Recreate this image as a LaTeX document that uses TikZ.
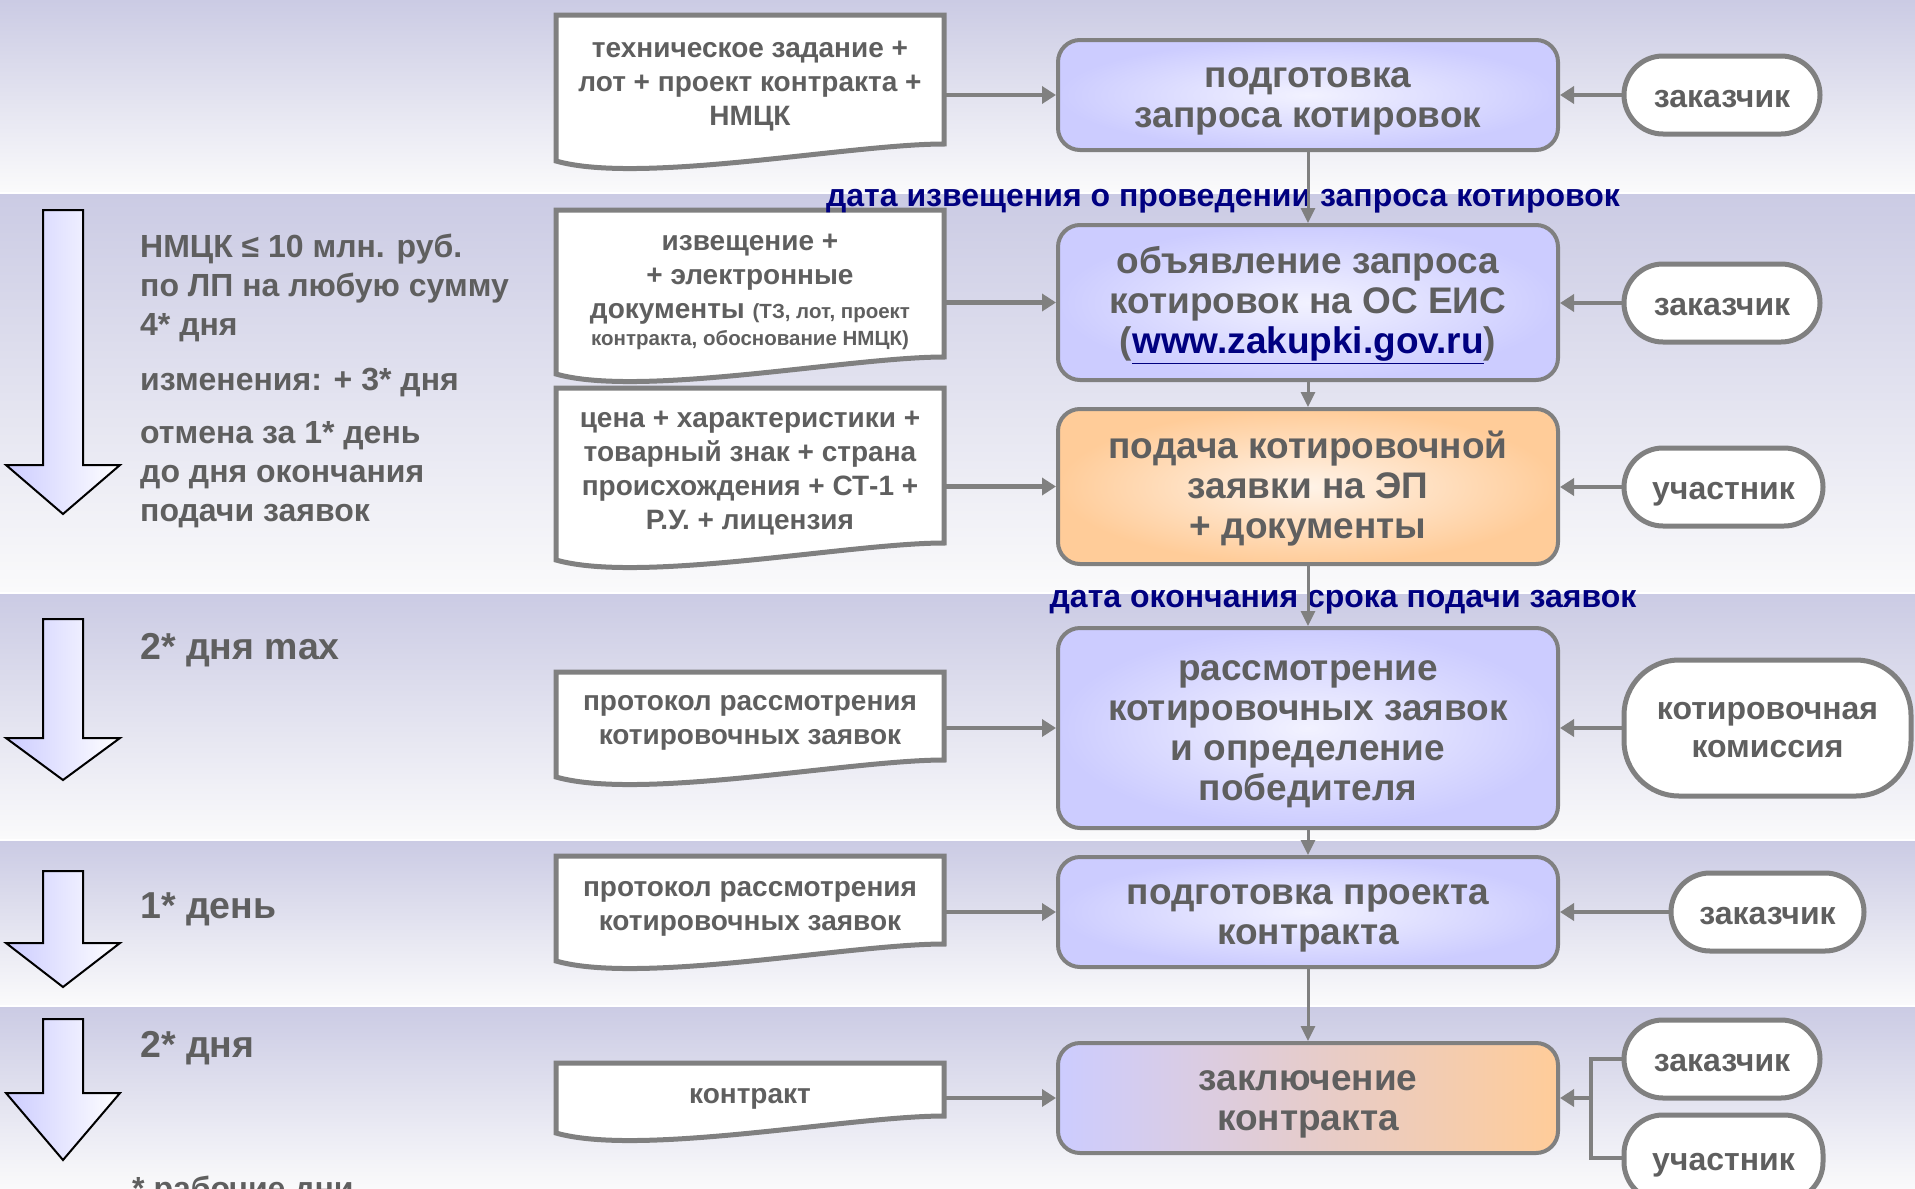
\documentclass[tikz,border=0pt]{standalone}
\usepackage{fontspec}
\setmainfont{Liberation Sans}
\usetikzlibrary{arrows.meta, backgrounds}
\definecolor{textgrey}{HTML}{5F5F5F}
\definecolor{linegrey}{HTML}{808080}
\definecolor{bandtop}{HTML}{CBCBE4}
\definecolor{bandbottom}{HTML}{FAFAFB}
\definecolor{lavender}{HTML}{CCCCFF}
\definecolor{lavendercentre}{HTML}{F2F2FF}
\definecolor{peach}{HTML}{FFCC99}
\definecolor{peachcentre}{HTML}{FFF3E8}
\definecolor{navy}{HTML}{000080}
% struts so that text sits where it should in its node
\newcommand{\onestrut}{\rule[-0.2em]{0pt}{1.17em}}
\newcommand{\textstrut}{\rule[-0.2em]{0pt}{0.92em}}
\newcommand{\firststrut}{\rule{0pt}{0.86em}}
% document outline with a wavy bottom: top, bottom of the right edge
\newcommand{\docoutline}[2]{%
  \begin{scope}[on background layer]
    \draw[docline] (556,#1) -- (944,#1) -- (944,#2)
      .. controls +(-94,0) and +(84,24) .. (556,#2+17) -- cycle;
  \end{scope}}
% big arrow on the left: top, start of head, tip
\newcommand{\timearrow}[3]{%
  \shadedraw[timeblock] (43,#1) -- (83,#1) -- (83,#2) -- (120,#2) -- (63,#3)
    -- (6,#2) -- (43,#2) -- cycle;}

\begin{document}
\begin{tikzpicture}[
      % GLOBAL CFG
      x=1pt, y=-1pt,
      >=Triangle,
      % Styles
      single/.style={% one line of text in a box
        execute at begin node=\onestrut,
        execute at end node=\onestrut
      },
      plaintext/.style={
        execute at begin node=\textstrut,
        execute at end node=\textstrut
      },
      stage/.style={% For the main steps
        rectangle,
        rounded corners=22pt,
        draw=linegrey,
        line width=4pt,
        inner color=lavendercentre,
        outer color=lavender,
        minimum width=500pt,
        align=center,
        text=textgrey,
        font=\fontsize{37}{40}\selectfont\bfseries
      },
      doc/.style={% For documents
        rectangle,
        inner sep=0pt,
        minimum width=388pt,
        align=center,
        text=textgrey,
        font=\fontsize{28}{34}\selectfont\bfseries
      },
      docline/.style={
        draw=linegrey,
        line width=5pt,
        fill=white
      },
      actor/.style={% For participants
        rectangle,
        single,
        rounded corners=39pt,
        draw=linegrey,
        line width=5pt,
        fill=white,
        minimum width=196pt,
        minimum height=78pt,
        align=center,
        text=textgrey,
        font=\fontsize{32}{38}\selectfont\bfseries
      },
      note/.style={% Terms on the left
        anchor=west,
        plaintext,
        inner sep=0pt,
        align=left,
        text=textgrey,
        font=\fontsize{32}{39}\selectfont\bfseries
      },
      period/.style={
        note,
        font=\fontsize{37.5}{42}\selectfont\bfseries
      },
      datelabel/.style={
        plaintext,
        inner sep=0pt,
        text=navy,
        font=\fontsize{32}{34}\selectfont\bfseries
      },
      timeblock/.style={
        left color=lavender,
        right color=white,
        draw=black,
        line width=2pt
      },
      arrowinput/.style={% Arrows into a step
        draw=linegrey,
        line width=4.5pt,
        -{Triangle[length=14pt,width=17pt]}
      },
      arrowstep/.style={% Arrows between steps
        draw=linegrey,
        line width=3pt,
        -{Triangle[length=15pt,width=14pt]}
      },
      actorlink/.style={
        draw=linegrey,
        line width=4.5pt
      }
      ]

      \useasboundingbox (0,0) rectangle (1915,1189);

      % Background bands
      \begin{scope}[on background layer]
        \fill[white] (0,0) rectangle (1915,1189);
        \foreach \top/\bot in {0/191, 194/591, 594/838, 841/1004, 1007/1189}
          \shade[top color=bandtop, bottom color=bandbottom] (0,\top) rectangle (1915,\bot);
      \end{scope}

      % Time scale on the left
      \timearrow{210}{465}{514}
      \timearrow{619}{738}{780}
      \timearrow{871}{943}{987}
      \timearrow{1019}{1093}{1160}

      \node [note] (limits) at (140,288) {НМЦК ≤ 10 млн. руб.\\по ЛП на любую сумму\\4* дня};
      \node [note] (changes) at (140,382) {изменения: + 3* дня};
      \node [note] (cancel) at (140,475) {отмена за 1* день\\до дня окончания\\подачи заявок};
      \node [period] (reviewterm) at (140,650) {2* дня max};
      \node [period] (draftterm) at (140,909) {1* день};
      \node [period] (signterm) at (140,1048) {2* дня};
      \node [note, anchor=base west] (footnote) at (132,1199) {* рабочие дни};

      % Documents
      \node [doc] (docspec) at (750,86)
        {техническое задание +\\лот + проект контракта +\\НМЦК};
      \docoutline{15}{144}
      \node [doc] (docnotice) at (750,292)
        {извещение +\\+ электронные\\документы {\fontsize{20.5}{24}\selectfont (ТЗ, лот, проект}\\[-7pt]
         {\fontsize{20.5}{24}\selectfont контракта, обоснование НМЦК)}};
      \docoutline{210}{357}
      \node [doc] (docbid) at (750,473.5)
        {цена + характеристики +\\товарный знак + страна\\происхождения + СТ-1 +\\Р.У. + лицензия};
      \docoutline{388}{543}
      \node [doc] (docreview) at (750,723)
        {протокол рассмотрения\\котировочных заявок};
      \docoutline{672}{760}
      \node [doc] (docprotocol) at (750,909)
        {протокол рассмотрения\\котировочных заявок};
      \docoutline{856}{944}
      \node [doc, single] (doccontract) at (750,1093) {контракт};
      \docoutline{1063}{1116}

      % Steps
      \node [stage, minimum height=110pt] (prepare) at (1308,95) {\firststrut подготовка\\запроса котировок};
      \node [stage, minimum height=155pt] (announce) at (1308,302.5)
        {\firststrut объявление запроса\\котировок на ОС ЕИС\\(\textcolor{navy}{\underline{www.zakupki.gov.ru}})};
      \node [stage, minimum height=155pt, inner color=peachcentre, outer color=peach] (submit) at (1308,486.5)
        {\firststrut подача котировочной\\заявки на ЭП\\+ документы};
      \node [stage, minimum height=200pt] (review) at (1308,728)
        {\firststrut рассмотрение\\котировочных заявок\\и определение\\победителя};
      \node [stage, minimum height=110pt] (draft) at (1308,912) {\firststrut подготовка проекта\\контракта};
      \node [stage, minimum height=110pt, left color=lavender, right color=peach] (conclude) at (1308,1098)
        {\firststrut заключение\\контракта};

      % Participants
      \node [actor] (client1) at (1722,95) {заказчик};
      \node [actor] (client2) at (1722,303) {заказчик};
      \node [actor, minimum width=199pt] (bidder1) at (1723.5,487) {участник};
      \node [actor, minimum width=287pt, minimum height=136pt, rounded corners=55pt] (commission) at (1767.5,728)
        {\firststrut котировочная\\комиссия};
      \node [actor, minimum width=193pt] (client3) at (1767.5,912) {заказчик};
      \node [actor] (client4) at (1722,1059) {заказчик};
      \node [actor, minimum width=199pt, minimum height=86pt] (bidder2) at (1723.5,1158) {участник};

      % Dates
      \node [datelabel] (noticedate) at (1223,198) {дата извещения о проведении запроса котировок};
      \node [datelabel] (deadline) at (1343,599) {дата окончания срока подачи заявок};

      % Connectors
      \foreach \a/\b in {prepare/announce, announce/submit, submit/review, review/draft, draft/conclude}
        \draw [arrowstep] (\a) -- (\b);
      \foreach \d/\s in {docspec/prepare, docnotice/announce, docbid/submit,
                         docreview/review, docprotocol/draft, doccontract/conclude}
        \draw [arrowinput] (\d.east |- \s.west) -- (\s.west);
      \foreach \a/\s in {client1/prepare, client2/announce, bidder1/submit, commission/review, client3/draft}
        \draw [arrowinput] (\a.west) -- (\a.west -| \s.east);
      \coordinate (joint) at (1591,1098);
      \draw [actorlink] (client4.west) -| (joint) |- (bidder2.west);
      \draw [arrowinput] (joint) -- (joint -| conclude.east);

    \end{tikzpicture}
\end{document}
